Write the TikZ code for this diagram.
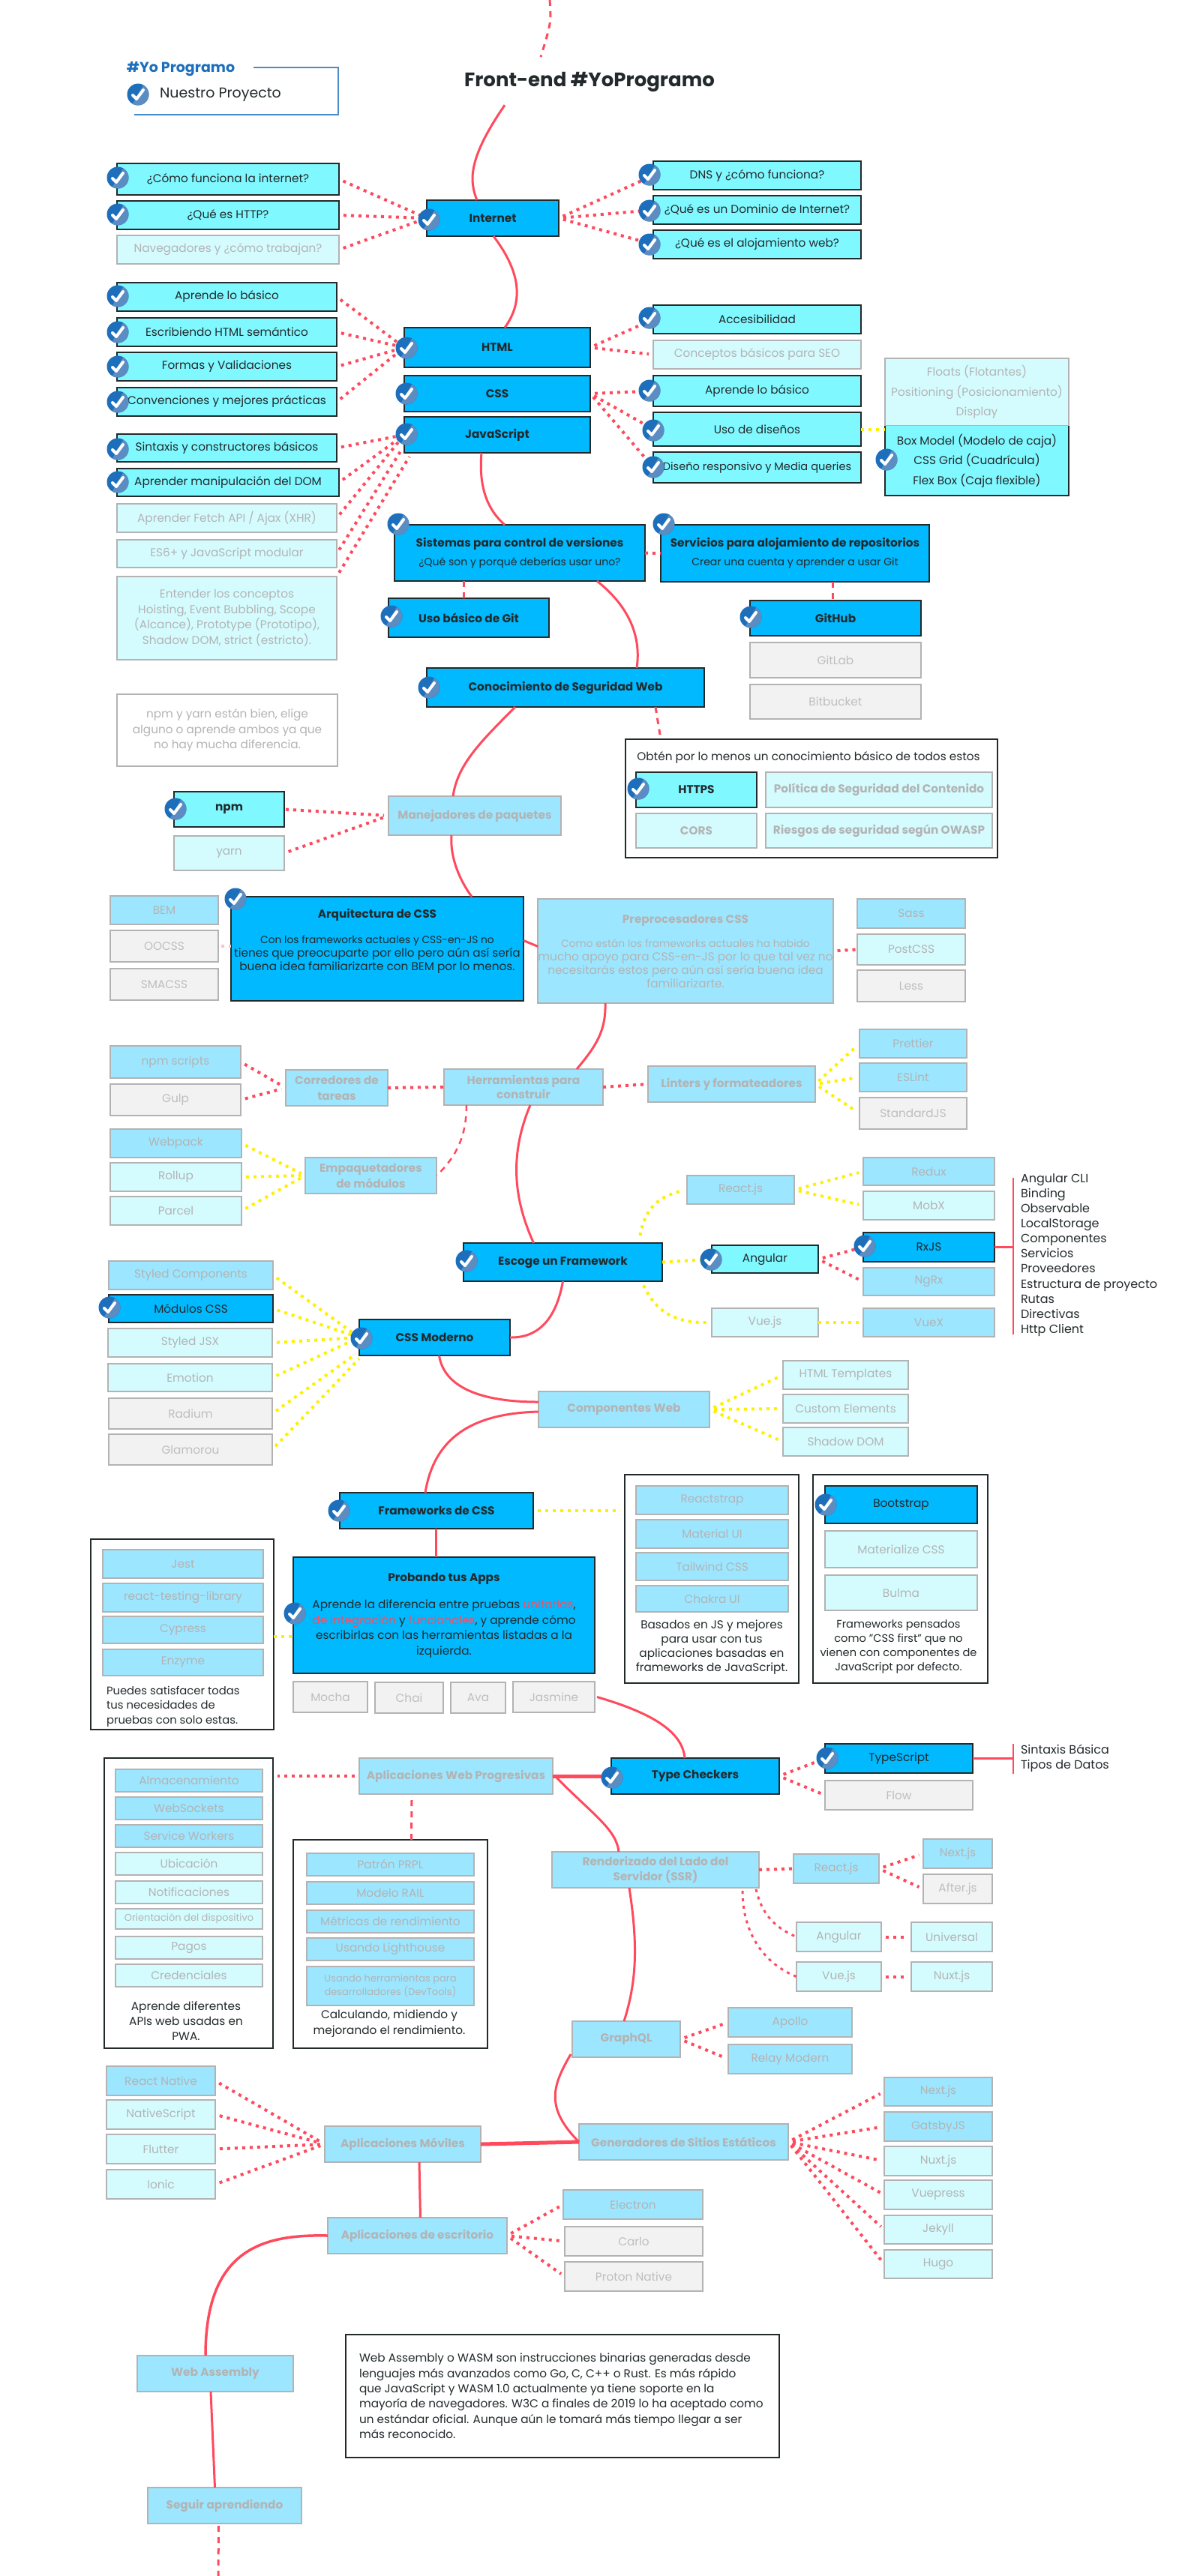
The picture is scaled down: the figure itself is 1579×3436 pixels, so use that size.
\documentclass[tikz,border=0pt]{standalone}
\usepackage{fontspec}
\setmainfont{Poppins}
\usetikzlibrary{calc}
\definecolor{linkred}{HTML}{FF4A5E}
\definecolor{linkyellow}{HTML}{FFF000}
\definecolor{topicblue}{HTML}{00B9FF}
\definecolor{fadeblue}{HTML}{9CE6FF}
\definecolor{donecyan}{HTML}{80F8FF}
\definecolor{todocyan}{HTML}{D4FCFF}
\definecolor{skipgrey}{HTML}{F2F2F2}
\definecolor{edgedark}{HTML}{222A2C}
\definecolor{edgefade}{HTML}{B3B3B3}
\definecolor{tickdark}{HTML}{1D6FBC}
\definecolor{ticklight}{HTML}{5B8CC2}
\tikzset{
	every node/.style={inner sep=0pt, outer sep=0pt, align=center, font=\fontsize{15.3}{19}\selectfont, text=edgedark},
	heavy/.style={execute at begin node=\bfseries},
	lead/.style={font=\fontsize{15.3}{#1}\selectfont},
	tiny/.style={font=\fontsize{13}{#1}\selectfont},
	dark/.style={draw=edgedark, line width=2pt},
	fade/.style={draw=edgefade, line width=2pt, text=edgefade},
	topic/.style={dark, fill=topicblue},
	topicdone/.style={topic, heavy},
	donebox/.style={dark, fill=donecyan},
	todobox/.style={fade, fill=todocyan},
	leafbox/.style={fade, fill=fadeblue},
	pendbox/.style={leafbox, heavy},
	skipbox/.style={fade, fill=skipgrey, text=edgefade!85},
	notebox/.style={dark, fill=white},
	notefade/.style={fade, fill=white},
	link/.style={draw=linkred, line width=3pt},
	thicklink/.style={draw=linkred, line width=5pt},
	dots/.style={draw=linkred, line width=4pt, dash pattern=on 4pt off 6pt, shorten >=6pt, shorten <=6pt},
	ydots/.style={dots, draw=linkyellow},
	longdash/.style={draw=linkred, line width=3pt, dash pattern=on 8pt off 7pt},
	tickmark/.pic={
		\fill[tickdark] (0,0) circle (14.5);
		\fill[ticklight] (-60:14.5) arc (-60:120:14.5) -- cycle;
		\draw[white, line width=4pt, line cap=round, line join=round] (-7,1) -- (-2,6) -- (7,-6);
	}
}
\def\rbox[#1](#2)(#3:#4:#5:#6)#7{%
	\pgfmathsetmacro\rw{#5-#3}\pgfmathsetmacro\rh{#6-#4}%
	\node[#1, minimum width=\rw pt, minimum height=\rh pt] (#2) at ({(#3+#5)/2},{(#4+#6)/2}) {#7};}
\def\tick(#1,#2){\pic at (#1,#2) {tickmark};}
\begin{document}
\begin{tikzpicture}[x=1pt, y=-1pt]
	\useasboundingbox (0,0) rectangle (1579,3436);
	%%%%% TITLE %%%%%
	\node[font=\fontsize{26}{30}\selectfont, heavy] (title) at (786,109) {Front-end \#YoProgramo};
	\coordinate (topfree) at (733,0);
	\coordinate (titletop) at (721,76);
	\node[font=\fontsize{19}{22}\selectfont, heavy, text=tickdark] (legendname) at (241,92) {\#Yo Programo};
	\node[font=\fontsize{19}{22}\selectfont] (legendtext) at (294,126) {Nuestro Proyecto};
	\draw[draw=tickdark!80, line width=2.5pt] (338,90) -- (451,90) -- (451,153) -- (179,153);

	%%%%% INTERNET %%%%%
	\rbox[donebox](howweb)(156:218:452:260){¿Cómo funciona la internet?}
	\rbox[donebox](http)(156:268:452:306){¿Qué es HTTP?}
	\rbox[todobox](browsers)(156:314:452:352){Navegadores y ¿cómo trabajan?}
	\rbox[topicdone](internet)(569:267:745:315){Internet}
	\rbox[donebox](dns)(871:215:1148:253){DNS y ¿cómo funciona?}
	\rbox[donebox](domain)(871:261:1148:299){¿Qué es un Dominio de Internet?}
	\rbox[donebox](hosting)(871:307:1148:345){¿Qué es el alojamiento web?}

	%%%%% HTML CSS JS %%%%%
	\rbox[donebox](htmlbasic)(156:377:449:415){Aprende lo básico}
	\rbox[donebox](semantic)(156:424:449:462){Escribiendo HTML semántico}
	\rbox[donebox](forms)(156:470:449:508){Formas y Validaciones}
	\rbox[donebox](conventions)(156:517:449:555){Convenciones y mejores prácticas}
	\rbox[topicdone](html)(539:437:787:490){HTML}
	\rbox[topicdone](css)(539:501:787:549){CSS}
	\rbox[topicdone](js)(539:556:787:604){JavaScript}
	\rbox[donebox](access)(871:407:1148:445){Accesibilidad}
	\rbox[todobox](seo)(871:454:1148:492){Conceptos básicos para SEO}
	\rbox[donebox](cssbasic)(871:501:1148:542){Aprende lo básico}
	\rbox[donebox](layouts)(871:550:1148:595){Uso de diseños}
	\rbox[donebox, tiny=15](responsive)(871:603:1148:644){\fontsize{14.6}{15}\selectfont Diseño responsivo y Media queries}
	\rbox[todobox, lead=26.6](floats)(1180:478:1425:568){Floats (Flotantes)\\Positioning (Posicionamiento)\\Display}
	\rbox[fill=donecyan, lead=26.6](boxmodel)(1180:568:1425:661){Box Model (Modelo de caja)\\CSS Grid (Cuadrícula)\\Flex Box (Caja flexible)}
	\draw[draw=edgedark, line width=2pt] (boxmodel.north west) -- (boxmodel.south west) -- (boxmodel.south east) -- (boxmodel.north east);
	\rbox[donebox](syntax)(156:579:449:616){Sintaxis y constructores básicos}
	\rbox[donebox](dom)(156:625:452:662){Aprender manipulación del DOM}
	\rbox[todobox](fetch)(156:672:449:710){Aprender Fetch API / Ajax (XHR)}
	\rbox[todobox](modules)(156:720:449:757){ES6+ y JavaScript modular}
	\rbox[todobox, lead=20.5](concepts)(156:769:449:880){Entender los conceptos\\Hoisting, Event Bubbling, Scope\\(Alcance), Prototype (Prototipo),\\Shadow DOM, strict (estricto).}

	%%%%% GIT %%%%%
	\rbox[topic, lead=25](vcs)(526:700:860:775){\textbf{Sistemas para control de versiones}\\\fontsize{14}{25}\selectfont ¿Qué son y porqué deberías usar uno?}
	\rbox[topic, lead=25](repos)(881:700:1239:776){\textbf{Servicios para alojamiento de repositorios}\\\fontsize{14}{25}\selectfont Crear una cuenta y aprender a usar Git}
	\rbox[topicdone](gitbasic)(518:798:732:850){Uso básico de Git}
	\rbox[topicdone](github)(1000:801:1228:848){GitHub}
	\rbox[skipbox](gitlab)(1000:857:1228:904){GitLab}
	\rbox[skipbox](bitbucket)(1000:913:1228:959){Bitbucket}
	\rbox[topicdone](security)(569:891:939:943){Conocimiento de Seguridad Web}

	%%%%% SECURITY BOX %%%%%
	\rbox[notefade, lead=20.5](npmnote)(156:926:450:1022){npm y yarn están bien, elige\\alguno o aprende ambos ya que\\no hay mucha diferencia.}
	\rbox[notebox](securitybox)(834:986:1330:1144){}
	\node (securitytext) at (1078,1010) {Obtén por lo menos un conocimiento básico de todos estos};
	\rbox[donebox, heavy](https)(848:1030:1009:1077){HTTPS}
	\rbox[todobox, heavy](csp)(1021:1030:1323:1077){Política de Seguridad del Contenido}
	\rbox[todobox, heavy](cors)(848:1085:1009:1131){CORS}
	\rbox[todobox, heavy](owasp)(1021:1085:1323:1131){Riesgos de seguridad según OWASP}

	%%%%% PACKAGES %%%%%
	\rbox[donebox, heavy](npm)(232:1056:379:1103){npm}
	\rbox[todobox](yarn)(232:1115:379:1161){yarn}
	\rbox[pendbox](packages)(518:1062:748:1114){Manejadores de paquetes}

	%%%%% CSS ARCHITECTURE %%%%%
	\rbox[leafbox](bem)(147:1195:291:1233){BEM}
	\rbox[skipbox](oocss)(147:1241:291:1283){OOCSS}
	\rbox[skipbox](smacss)(147:1292:291:1334){SMACSS}
	\rbox[topic, lead=18](arch)(308:1196:698:1335){\textbf{Arquitectura de CSS}\\[16pt]\fontsize{13.8}{18}\selectfont Con los frameworks actuales y CSS-en-JS no\\tienes que preocuparte por ello pero aún así sería\\buena idea familiarizarte con BEM por lo menos.\\\strut}
	\rbox[leafbox, lead=18](prepro)(719:1199:1109:1338){\textbf{Preprocesadores CSS}\\[14pt]\fontsize{13.8}{18}\selectfont Como están los frameworks actuales ha habido\\mucho apoyo para CSS-en-JS por lo que tal vez no\\necesitarás estos pero aún así sería buena idea\\familiarizarte.}
	\rbox[leafbox](sass)(1143:1199:1287:1238){Sass}
	\rbox[todobox](postcss)(1143:1246:1287:1287){PostCSS}
	\rbox[skipbox](less)(1143:1294:1287:1336){Less}

	%%%%% BUILD TOOLS %%%%%
	\rbox[leafbox](npmscripts)(147:1395:321:1438){npm scripts}
	\rbox[skipbox](gulp)(147:1446:321:1488){Gulp}
	\rbox[pendbox, lead=21](runners)(381:1427:517:1475){Corredores de\\tareas}
	\rbox[pendbox, lead=19](buildtools)(592:1426:804:1474){Herramientas para\\construir}
	\rbox[pendbox](linters)(864:1422:1087:1470){Linters y formateadores}
	\rbox[leafbox](prettier)(1146:1373:1289:1411){Prettier}
	\rbox[leafbox](eslint)(1146:1418:1289:1456){ESLint}
	\rbox[skipbox](standard)(1146:1464:1289:1506){StandardJS}
	\rbox[leafbox](webpack)(147:1506:322:1544){Webpack}
	\rbox[todobox](rollup)(147:1551:322:1589){Rollup}
	\rbox[todobox](parcel)(147:1596:322:1634){Parcel}
	\rbox[pendbox, lead=21](bundlers)(407:1544:582:1592){Empaquetadores\\de módulos}

	%%%%% FRAMEWORKS %%%%%
	\rbox[leafbox](react)(916:1568:1059:1606){React.js}
	\rbox[leafbox](redux)(1151:1544:1326:1581){Redux}
	\rbox[todobox](mobx)(1151:1589:1326:1627){MobX}
	\rbox[topic](rxjs)(1151:1644:1326:1683){RxJS}
	\rbox[leafbox](ngrx)(1151:1691:1326:1728){NgRx}
	\rbox[topicdone](framework)(618:1658:883:1709){Escoge un Framework}
	\rbox[donebox](angular)(949:1661:1091:1698){Angular}
	\rbox[todobox](vue)(949:1745:1091:1783){Vue.js}
	\rbox[leafbox](vuex)(1151:1745:1326:1783){VueX}
	\node[anchor=west, align=left, font=\fontsize{16}{20.1}\selectfont] (angularlist) at (1361,1674) {Angular CLI\\Binding\\Observable\\LocalStorage\\Componentes\\Servicios\\Proveedores\\Estructura de proyecto\\Rutas\\Directivas\\Http Client};
	\coordinate (angulartop) at (1351,1571);
	\coordinate (angularbottom) at (1351,1780);

	%%%%% MODERN CSS %%%%%
	\rbox[leafbox](styled)(145:1682:364:1720){Styled Components}
	\rbox[topic](cssmodules)(145:1727:364:1764){Módulos CSS}
	\rbox[todobox](styledjsx)(144:1772:363:1810){Styled JSX}
	\rbox[todobox](emotion)(144:1819:363:1856){Emotion}
	\rbox[skipbox](radium)(145:1865:363:1906){Radium}
	\rbox[skipbox](glamorou)(145:1913:363:1954){Glamorou}
	\rbox[topicdone](moderncss)(479:1760:680:1808){CSS Moderno}
	\rbox[pendbox](webcomp)(718:1856:946:1904){Componentes Web}
	\rbox[todobox](templates)(1044:1815:1211:1853){HTML Templates}
	\rbox[todobox](custom)(1044:1860:1211:1898){Custom Elements}
	\rbox[todobox](shadow)(1044:1904:1211:1942){Shadow DOM}

	%%%%% CSS FRAMEWORKS %%%%%
	\rbox[topicdone](cssfw)(453:1991:711:2039){Frameworks de CSS}
	\rbox[notebox](jsbased)(833:1967:1065:2245){}
	\rbox[leafbox](reactstrap)(848:1982:1051:2020){Reactstrap}
	\rbox[leafbox](material)(848:2027:1051:2065){Material UI}
	\rbox[leafbox](tailwind)(848:2071:1051:2108){Tailwind CSS}
	\rbox[leafbox](chakra)(848:2115:1051:2150){Chakra UI}
	\node[lead=19] (jsbasedtext) at (949,2197) {Basados en JS y mejores\\para usar con tus\\aplicaciones basadas en\\frameworks de JavaScript.};
	\rbox[notebox](cssfirst)(1084:1967:1317:2245){}
	\rbox[topic](bootstrap)(1100:1982:1303:2032){Bootstrap}
	\rbox[todobox](materialize)(1100:2042:1303:2091){Materialize CSS}
	\rbox[todobox](bulma)(1100:2101:1303:2148){Bulma}
	\node[font=\fontsize{14.6}{19}\selectfont] (cssfirsttext) at (1198,2196) {Frameworks pensados\\como "CSS first" que no\\vienen con componentes de\\JavaScript por defecto.};

	%%%%% TESTING %%%%%
	\rbox[notebox](testbox)(121:2053:365:2307){}
	\rbox[leafbox](jest)(137:2067:351:2105){Jest}
	\rbox[leafbox](rtl)(137:2112:351:2150){react-testing-library}
	\rbox[leafbox](cypress)(137:2156:351:2192){Cypress}
	\rbox[leafbox](enzyme)(137:2200:351:2235){Enzyme}
	\node[anchor=west, align=left, font=\fontsize{14.8}{19.5}\selectfont] (testtext) at (142,2276) {Puedes satisfacer todas\\tus necesidades de\\pruebas con solo estas.};
	\rbox[topic, lead=20.5](testing)(391:2077:793:2232){\textbf{Probando tus Apps}\\[16pt]Aprende la diferencia entre pruebas \textcolor{linkred}{unitarias},\\\textcolor{linkred}{de integración} y \textcolor{linkred}{funcionales}, y aprende cómo\\escribirlas con las herramientas listadas a la\\izquierda.}
	\rbox[skipbox](mocha)(391:2243:490:2284){Mocha}
	\rbox[skipbox](chai)(500:2244:591:2285){Chai}
	\rbox[skipbox](ava)(601:2244:674:2285){Ava}
	\rbox[skipbox](jasmine)(684:2243:793:2284){Jasmine}

	%%%%% TYPES AND PWA %%%%%
	\rbox[topicdone](checkers)(815:2345:1039:2393){Type Checkers}
	\rbox[topic](typescript)(1100:2326:1297:2365){TypeScript}
	\rbox[skipbox](flow)(1100:2375:1297:2414){Flow}
	\node[anchor=west, align=left, font=\fontsize{16}{20}\selectfont] (tslist) at (1361,2345) {Sintaxis Básica\\Tipos de Datos};
	\coordinate (tstop) at (1351,2326);
	\coordinate (tsbottom) at (1351,2366);
	\rbox[pendbox](pwa)(479:2345:737:2393){Aplicaciones Web Progresivas}
	\rbox[notebox](apibox)(139:2345:364:2732){}
	\rbox[leafbox](storage)(154:2360:350:2390){Almacenamiento}
	\rbox[leafbox](sockets)(154:2397:350:2427){WebSockets}
	\rbox[leafbox](workers)(154:2434:350:2464){Service Workers}
	\rbox[todobox](location)(154:2471:350:2501){Ubicación}
	\rbox[todobox](notify)(154:2509:350:2539){Notificaciones}
	\rbox[todobox, tiny=15](orient)(154:2546:350:2573){Orientación del dispositivo}
	\rbox[todobox](payments)(154:2583:350:2613){Pagos}
	\rbox[todobox](credentials)(154:2620:350:2650){Credenciales}
	\node[lead=20] (apitext) at (248,2696) {Aprende diferentes\\APIs web usadas en\\PWA.};
	\rbox[notebox](perfbox)(391:2454:650:2732){}
	\rbox[leafbox](prpl)(409:2472:632:2502){Patrón PRPL}
	\rbox[leafbox](rail)(409:2510:632:2540){Modelo RAIL}
	\rbox[leafbox](metrics)(409:2548:632:2578){Métricas de rendimiento}
	\rbox[leafbox](lighthouse)(409:2585:632:2615){Usando Lighthouse}
	\rbox[leafbox, tiny=18](devtools)(409:2623:632:2675){Usando herramientas para\\desarrolladores (DevTools)}
	\node[lead=21] (perftext) at (519,2699) {Calculando, midiendo y\\mejorando el rendimiento.};

	%%%%% SSR AND GRAPHQL %%%%%
	\rbox[pendbox, lead=20.5](ssr)(736:2470:1012:2518){Renderizado del Lado del\\Servidor (SSR)}
	\rbox[leafbox](ssrreact)(1058:2473:1172:2512){React.js}
	\rbox[leafbox](nextssr)(1231:2453:1323:2492){Next.js}
	\rbox[skipbox](afterjs)(1231:2500:1323:2539){After.js}
	\rbox[todobox](ssrangular)(1062:2564:1175:2603){Angular}
	\rbox[todobox](universal)(1215:2564:1323:2603){Universal}
	\rbox[todobox](ssrvue)(1062:2617:1175:2656){Vue.js}
	\rbox[todobox](nuxtssr)(1215:2617:1323:2656){Nuxt.js}
	\rbox[pendbox](graphql)(763:2696:907:2744){GraphQL}
	\rbox[leafbox](apollo)(971:2678:1136:2717){Apollo}
	\rbox[leafbox](relay)(971:2727:1136:2766){Relay Modern}

	%%%%% MOBILE AND STATIC %%%%%
	\rbox[leafbox](reactnative)(142:2756:287:2795){React Native}
	\rbox[todobox](nativescript)(142:2801:287:2840){NativeScript}
	\rbox[todobox](flutter)(142:2847:287:2886){Flutter}
	\rbox[todobox](ionic)(142:2894:287:2933){Ionic}
	\rbox[pendbox](mobile)(433:2836:641:2884){Aplicaciones Móviles}
	\rbox[pendbox](static)(772:2833:1051:2881){Generadores de Sitios Estáticos}
	\rbox[leafbox](nextjs)(1179:2771:1323:2809){Next.js}
	\rbox[leafbox](gatsby)(1179:2817:1323:2856){GatsbyJS}
	\rbox[todobox](nuxtjs)(1179:2863:1323:2902){Nuxt.js}
	\rbox[todobox](vuepress)(1179:2908:1323:2947){Vuepress}
	\rbox[todobox](jekyll)(1179:2955:1323:2993){Jekyll}
	\rbox[todobox](hugo)(1179:3001:1323:3039){Hugo}
	\rbox[pendbox](desktop)(437:2958:676:3006){Aplicaciones de escritorio}
	\rbox[leafbox](electron)(751:2921:937:2960){Electron}
	\rbox[skipbox](carlo)(753:2970:937:3009){Carlo}
	\rbox[skipbox](proton)(753:3017:937:3056){Proton Native}

	%%%%% WASM %%%%%
	\rbox[pendbox](wasm)(183:3142:391:3190){Web Assembly}
	\rbox[pendbox](keeplearn)(197:3318:402:3366){Seguir aprendiendo}
	\coordinate (bottomfree) at (291,3436);
	\rbox[notebox](wasmnote)(461:3114:1039:3278){}
	\node[anchor=west, align=left, lead=20.4] (wasmtext) at (479,3196) {Web Assembly o WASM son instrucciones binarias generadas desde\\lenguajes más avanzados como Go, C, C++ o Rust. Es más rápido\\que JavaScript y WASM 1.0 actualmente ya tiene soporte en la\\mayoría de navegadores. W3C a finales de 2019 lo ha aceptado como\\un estándar oficial. Aunque aún le tomará más tiempo llegar a ser\\más reconocido.};

	%%%%% MAIN PATH %%%%%
	\draw[longdash] (topfree) .. controls (735,30) .. (titletop);
	\draw[link] ($(title.south)+(-113,18)$) .. controls (625,210) and (625,240) .. ($(internet.north)+(-21,0)$);
	\draw[link] ($(internet.south)+(1,0)$) .. controls (692,360) and (700,400) .. ($(html.north)+(10,0)$);
	\draw[link] ($(js.south)+(-21,0)$) .. controls (638,650) and (650,680) .. ($(vcs.north)+(-20,0)$);
	\draw[link] ($(vcs.south)+(103,0)$) .. controls (840,810) and (855,850) .. ($(security.north)+(95,0)$);
	\draw[link] ($(security.south)+(-67,0)$) .. controls (640,990) and (610,1020) .. ($(packages.north)+(-29,0)$);
	\draw[link] ($(packages.south)+(-31,0)$) .. controls (600,1140) and (610,1170) .. ($(arch.north)+(126,0)$);
	\draw[link] ($(arch.east)+(0,-11)$) -- ($(prepro.west)+(0,-6)$);
	\draw[link] ($(prepro.south)+(-107,0)$) .. controls (808,1375) and (795,1395) .. ($(buildtools.north)+(71,0)$);
	\draw[link] ($(buildtools.south)+(9,0)$) .. controls (675,1550) and (690,1610) .. ($(framework.north)+(-39,0)$);
	\draw[link] ($(framework.south)+(0,0)$) .. controls (745,1740) and (730,1785) .. (moderncss.east);
	\draw[link] ($(moderncss.south)+(6,0)$) .. controls (592,1850) and (640,1870) .. ($(webcomp.west)+(0,-10)$);
	\draw[link] ($(webcomp.west)+(0,3)$) .. controls (640,1885) and (580,1910) .. ($(cssfw.north)+(-15,0)$);
	\draw[link] ($(cssfw.south)-(1,0)$) -- ($(testing.north)-(11,0)$);
	\draw[link] ($(jasmine.east)+(3,0)$) .. controls (870,2285) and (910,2310) .. ($(checkers.north)-(14,0)$);
	\draw[thicklink] (checkers.west) -- (pwa.east);
	\draw[link] ($(pwa.east)+(3,0)$) .. controls (790,2420) and (822,2440) .. ($(ssr.north)-(49,0)$);
	\draw[link] ($(ssr.south)-(35,0)$) .. controls (850,2590) and (850,2640) .. ($(graphql.north)-(3,0)$);
	\draw[link] ($(graphql.west)+(-2,20)$) .. controls (738,2780) and (725,2810) .. (static.west);
	\draw[thicklink] (static.west) -- (mobile.east);
	\draw[link] ($(mobile.south)+(22,0)$) -- ($(desktop.north)+(4,0)$);
	\draw[link, line width=3.5pt] (desktop.west) .. controls (350,2980) and (274,3000) .. ($(wasm.north)+(-13,0)$);
	\draw[link] ($(wasm.south)+(-6,0)$) -- ($(keeplearn.north)+(-13,0)$);
	\draw[longdash] ($(keeplearn.south)+(-8,3)$) -- (bottomfree);

	%%%%% BRANCHES %%%%%
	\draw[dots] (howweb.east) -- (internet.west);
	\draw[dots] (http.east) -- (internet.west);
	\draw[dots] (browsers.east) -- (internet.west);
	\draw[dots] (internet.east) -- (dns.west);
	\draw[dots] (internet.east) -- (domain.west);
	\draw[dots] (internet.east) -- (hosting.west);
	\draw[dots] (htmlbasic.east) -- (html.west);
	\draw[dots] (semantic.east) -- (html.west);
	\draw[dots] (forms.east) -- (html.west);
	\draw[dots] (conventions.east) -- (html.west);
	\draw[dots] (html.east) -- (access.west);
	\draw[dots] (html.east) -- (seo.west);
	\draw[dots] (css.east) -- (cssbasic.west);
	\draw[dots] (css.east) -- (layouts.west);
	\draw[dots] (css.east) -- (responsive.west);
	\draw[ydots, shorten >=0pt, shorten <=0pt] (layouts.east) -- (layouts.east -| boxmodel.west);
	\draw[dots] (syntax.east) -- (js.west);
	\draw[dots] (dom.east) -- (js.west);
	\draw[dots] (fetch.east) -- (js.west);
	\draw[dots] (modules.east) -- ($(js.south west)+(0,-10)$);
	\draw[dots] (concepts.north east) -- ($(js.south west)+(10,0)$);
	\draw[dots, shorten >=0pt, shorten <=0pt] (vcs.east) -- (repos.west);
	\draw[longdash] ($(vcs.south)+(-75,0)$) -- ($(gitbasic.north)-(7,0)$);
	\draw[longdash] ($(repos.south)+(50,0)$) -- ($(github.north)-(4,0)$);
	\draw[longdash] ($(security.south)+(120,0)$) -- ($(securitybox.north)+(-202,-6)$);
	\draw[dots, shorten <=2pt] (npm.east) -- (packages.west);
	\draw[dots] (yarn.east) -- (packages.west);
	\draw[dots, draw=linkred!35, shorten >=0pt, shorten <=4pt] (oocss.east) -- (oocss.east -| arch.west);
	\draw[dots, shorten >=0pt] (prepro.east) -- (postcss.west);
	\draw[dots, shorten <=0pt, shorten >=0pt] (runners.east) -- (buildtools.west);
	\draw[dots] (npmscripts.east) -- (runners.west);
	\draw[dots] (gulp.east) -- (runners.west);
	\draw[dots, shorten <=0pt, shorten >=0pt] (buildtools.east) -- (linters.west);
	\draw[ydots] (linters.east) -- (prettier.west);
	\draw[ydots] (linters.east) -- (eslint.west);
	\draw[ydots] (linters.east) -- (standard.west);
	\draw[longdash, line width=2.5pt] ($(buildtools.south)+(-76,0)$) .. controls (622,1510) and (612,1540) .. (bundlers.east);
	\draw[ydots] (webpack.east) -- (bundlers.west);
	\draw[ydots] (rollup.east) -- (bundlers.west);
	\draw[ydots] (parcel.east) -- (bundlers.west);
	\draw[ydots] ($(framework.north)+(102,-4)$) .. controls (860,1610) and (880,1595) .. (react.west);
	\draw[ydots, shorten <=0pt, shorten >=0pt] (framework.east) -- (angular.west);
	\draw[ydots] ($(framework.south)+(105,0)$) .. controls (870,1740) and (890,1765) .. (vue.west);
	\draw[ydots] (react.east) -- (redux.west);
	\draw[ydots] (react.east) -- (mobx.west);
	\draw[dots] (angular.east) -- (rxjs.west);
	\draw[dots] (angular.east) -- (ngrx.west);
	\draw[ydots, shorten <=0pt, shorten >=0pt] (vue.east) -- (vuex.west);
	\draw[draw=linkred, line width=2.5pt] (rxjs.east) -- (rxjs.east -| angulartop);
	\draw[draw=linkred, line width=1.5pt] (angulartop) -- (angularbottom);
	\draw[ydots] (styled.east) -- (moderncss.west);
	\draw[ydots] (cssmodules.east) -- (moderncss.west);
	\draw[ydots] (styledjsx.east) -- (moderncss.west);
	\draw[ydots] (emotion.east) -- (moderncss.west);
	\draw[ydots] (radium.east) -- ($(moderncss.south west)+(0,-5)$);
	\draw[ydots] (glamorou.east) -- ($(moderncss.south west)+(4,0)$);
	\draw[ydots] (webcomp.east) -- (templates.west);
	\draw[ydots] (webcomp.east) -- (custom.west);
	\draw[ydots] (webcomp.east) -- (shadow.west);
	\draw[ydots] (cssfw.east) -- (cssfw.east -| jsbased.west);
	\draw[ydots, shorten <=0pt, shorten >=0pt] (testbox.east |- testing.west) ++(0,28) -- ++(26,0);
	\draw[dots] (checkers.east) -- (typescript.west);
	\draw[dots] (checkers.east) -- (flow.west);
	\draw[draw=linkred, line width=2.5pt] (typescript.east) -- (typescript.east -| tstop);
	\draw[draw=linkred, line width=1.5pt] (tstop) -- (tsbottom);
	\draw[dots] (pwa.west) -- (apibox.east |- pwa.west);
	\draw[longdash] ($(pwa.south)+(-59,8)$) -- ($(perfbox.north)+(28,0)$);
	\draw[dots, shorten <=0pt, shorten >=0pt] (ssr.east) -- (ssrreact.west);
	\draw[dots] (ssrreact.east) -- (nextssr.west);
	\draw[dots] (ssrreact.east) -- (afterjs.west);
	\draw[longdash, line width=3pt, dash pattern=on 4pt off 6pt] ($(ssr.south)+(134,2)$) .. controls (1015,2550) and (1030,2570) .. (ssrangular.west);
	\draw[longdash, line width=3pt, dash pattern=on 4pt off 6pt] ($(ssr.south)+(116,4)$) .. controls (990,2580) and (1020,2620) .. (ssrvue.west);
	\draw[dots] (ssrangular.east) -- (universal.west);
	\draw[dots] (ssrvue.east) -- (nuxtssr.west);
	\draw[dots] (graphql.east) -- (apollo.west);
	\draw[dots] (graphql.east) -- (relay.west);
	\draw[dots] (reactnative.east) -- (mobile.west);
	\draw[dots] (nativescript.east) -- (mobile.west);
	\draw[dots] (flutter.east) -- (mobile.west);
	\draw[dots] (ionic.east) -- (mobile.west);
	\draw[dots] (static.east) -- (nextjs.west);
	\draw[dots] (static.east) -- (gatsby.west);
	\draw[dots] (static.east) -- (nuxtjs.west);
	\draw[dots] (static.east) -- (vuepress.west);
	\draw[dots] (static.east) -- (jekyll.west);
	\draw[dots] (static.east) -- (hugo.west);
	\draw[dots] (desktop.east) -- (electron.west);
	\draw[dots] (desktop.east) -- (carlo.west);
	\draw[dots] (desktop.east) -- (proton.west);

	%%%%% CHECKS %%%%%
	\tick(184,126)
	\tick(157,237) \tick(157,286) \tick(572,293) \tick(866,233) \tick(866,281) \tick(866,326)
	\tick(157,395) \tick(157,443) \tick(157,489) \tick(157,536) \tick(542,464) \tick(542,525)
	\tick(866,424) \tick(866,521) \tick(542,579) \tick(871,574) \tick(871,623) \tick(1182,613)
	\tick(157,599) \tick(157,643) \tick(531,699) \tick(885,699) \tick(522,822) \tick(1001,823)
	\tick(572,917) \tick(851,1052) \tick(234,1079) \tick(314,1199) \tick(1153,1662) \tick(622,1682)
	\tick(948,1680) \tick(146,1744) \tick(482,1785) \tick(452,2015) \tick(1101,2007) \tick(393,2152)
	\tick(1103,2345) \tick(816,2371)
\end{tikzpicture}
\end{document}
